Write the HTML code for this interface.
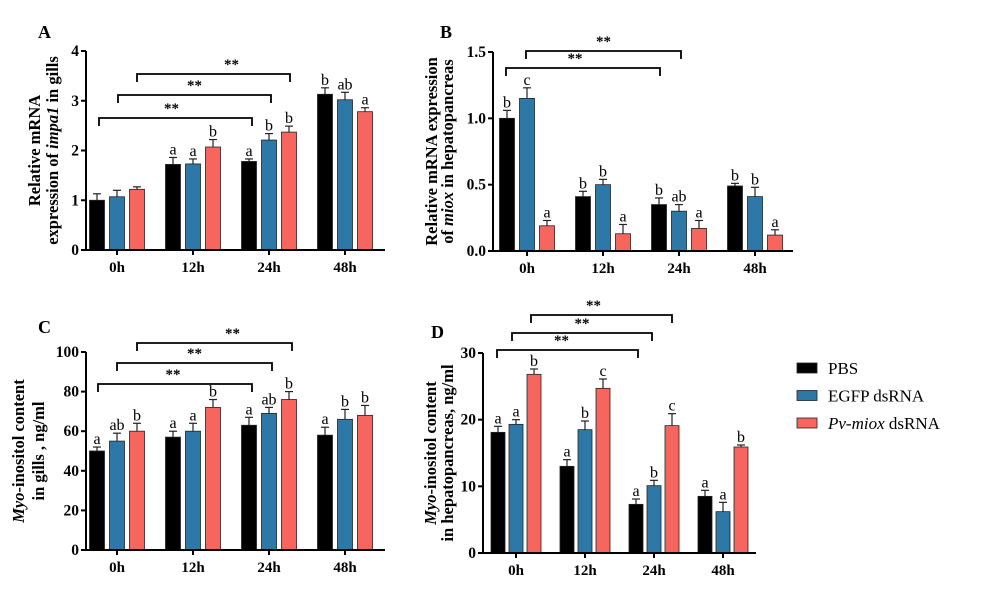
<!DOCTYPE html>
<html><head><meta charset="utf-8"><style>
body{margin:0;background:#fff}
svg{display:block;font-family:"Liberation Serif",serif}
</style></head><body>
<svg id="fig" width="994" height="590" viewBox="0 0 994 590"></svg>
<script>
const categories=["0h","12h","24h","48h"];
const seriesNames=["PBS","EGFP dsRNA","Pv-miox dsRNA"];
const colors=["#000000","#2e78a8","#f7655f"];
// Panel A
const aPBS=[1.0,1.72,1.78,3.13],aEGFP=[1.07,1.73,2.21,3.02],aMiox=[1.22,2.07,2.37,2.78];
const aErrPBS=[0.13,0.14,0.05,0.13],aErrEGFP=[0.13,0.1,0.13,0.15],aErrMiox=[0.05,0.15,0.12,0.08];
const aLetters=[["","",""],["a","a","b"],["a","b","b"],["b","ab","a"]];
const aTicks=["0","1","2","3","4"];
// Panel B
const bPBS=[1.0,0.41,0.35,0.49],bEGFP=[1.15,0.5,0.3,0.41],bMiox=[0.19,0.13,0.17,0.12];
const bErrPBS=[0.06,0.04,0.05,0.02],bErrEGFP=[0.08,0.04,0.05,0.07],bErrMiox=[0.04,0.07,0.06,0.04];
const bLetters=[["b","c","a"],["b","b","a"],["b","ab","a"],["b","b","a"]];
const bTicks=["0.0","0.5","1.0","1.5"];
// Panel C
const cPBS=[50,57,63,58],cEGFP=[55,60,69,66],cMiox=[60,72,76,68];
const cErrPBS=[2,3,4,4],cErrEGFP=[4,4,3,5],cErrMiox=[4,4,4,5];
const cLetters=[["a","ab","b"],["a","a","b"],["a","ab","b"],["a","b","b"]];
const cTicks=["0","20","40","60","80","100"];
// Panel D
const dPBS=[18.1,13.0,7.3,8.5],dEGFP=[19.3,18.5,10.1,6.2],dMiox=[26.8,24.7,19.1,15.9];
const dErrPBS=[0.9,1.0,0.8,0.9],dErrEGFP=[0.7,1.3,0.8,1.4],dErrMiox=[0.8,1.4,1.8,0.3];
const dLetters=[["a","a","b"],["a","b","c"],["a","b","c"],["a","a","b"]];
const dTicks=["0","10","20","30"];

const NS="http://www.w3.org/2000/svg";
const svg=document.getElementById('fig');
function mk(tag,attrs,parent,text){const e=document.createElementNS(NS,tag);for(const k in attrs)e.setAttribute(k,attrs[k]);if(text!==undefined)e.textContent=text;(parent||svg).appendChild(e);return e;}

function panel(p){
  const g=mk('g',{});
  
  
  const ymax=parseFloat(p.ticks[p.ticks.length-1]);
  const y=v=>p.y0-(v/ymax)*(p.y0-p.y1);
  const x=i=>p.cx0+i*p.gs;
  const lbl=mk('text',{x:p.lx,y:p.ly,'font-size':18,'font-weight':'bold'},g,p.id);
  
  
  const series=[p.s0,p.s1,p.s2],errs=[p.e0,p.e1,p.e2];
  categories.forEach((c,i)=>{
    for(let s=0;s<3;s++){
      const cx=x(i)+(s-1)*p.bs, v=series[s][i], top=y(v);
      const r=mk('rect',{x:cx-p.bw/2,y:top,width:p.bw,height:p.y0-top,fill:colors[s],stroke:'#222','stroke-width':0.8},g);
      
      
      const et=y(v+errs[s][i]);
      mk('line',{x1:cx,x2:cx,y1:top,y2:et,stroke:'#222','stroke-width':1.2},g);
      mk('line',{x1:cx-4,x2:cx+4,y1:et,y2:et,stroke:'#222','stroke-width':1.2},g);
      const L=p.letters[i][s];
      if(L){const t=mk('text',{x:cx,y:et-3,'font-size':16,'text-anchor':'middle'},g,L);
        }
    }
    mk('line',{x1:x(i),x2:x(i),y1:p.y0,y2:p.y0+5,stroke:'#000','stroke-width':2},g);
    const t=mk('text',{x:x(i),y:p.y0+22,'font-size':15,'font-weight':'bold','text-anchor':'middle'},g,c);
    
  });
  mk('line',{x1:p.ax,x2:p.ax,y1:p.y1,y2:p.y0+1,stroke:'#000','stroke-width':2},g);
  mk('line',{x1:p.ax-1,x2:p.xend,y1:p.y0,y2:p.y0,stroke:'#000','stroke-width':2},g);
  p.ticks.forEach(tk=>{const yy=y(parseFloat(tk));
    mk('line',{x1:p.ax-5,x2:p.ax,y1:yy,y2:yy,stroke:'#000','stroke-width':2},g);
    const t=mk('text',{x:p.ax-7,y:yy+5,'font-size':15.5,'font-weight':'bold','text-anchor':'end'},g,tk);
    });
  p.brackets.forEach(b=>{
    mk('path',{d:`M${b[0]},${b[2]+8}V${b[2]}H${b[1]}V${b[2]+8}`,fill:'none',stroke:'#000','stroke-width':1.8},g);
    mk('text',{x:(b[0]+b[1])/2+(b[3]||0),y:b[2]-5,'font-size':15,'font-weight':'bold','text-anchor':'middle'},g,'**');
  });
  const tt=mk('text',{transform:`translate(${p.tx},${(p.y0+p.y1)/2}) rotate(-90)`,'font-size':16.5,'font-weight':'bold','text-anchor':'middle'},g);
  
  p.title(tt,p.ls);
}
function tsp(parent,lines,ls){lines.forEach((ln,li)=>{const t=mk('tspan',{x:0,dy:li?ls:0},parent);
  ln.forEach(seg=>{mk('tspan',seg[1]?{'font-style':'italic'}:{},t,seg[0]);});});}

panel({id:'A',lx:38,ly:38,ax:86,y0:250,y1:51,xend:385,cx0:117,gs:76,bs:20,bw:15,tx:40,ls:18,
 s0:aPBS,s1:aEGFP,s2:aMiox,e0:aErrPBS,e1:aErrEGFP,e2:aErrMiox,letters:aLetters,ticks:aTicks,
 brackets:[[99,252,118,-4],[118,271,95],[137,290,74,18]],
 title:(t,ls)=>tsp(t,[[["Relative mRNA"]],[["expression of "],["impa1",1],[" in gills"]]],ls)});
panel({id:'B',lx:440,ly:38,ax:493,y0:251,y1:52,xend:793,cx0:527,gs:76,bs:20,bw:15,tx:437,ls:16,
 s0:bPBS,s1:bEGFP,s2:bMiox,e0:bErrPBS,e1:bErrEGFP,e2:bErrMiox,letters:bLetters,ticks:bTicks,
 brackets:[[506,660,68,-8],[526,681,51]],
 title:(t,ls)=>tsp(t,[[["Relative mRNA expression"]],[["of "],["miox",1],[" in hepatopancreas"]]],ls)});
panel({id:'C',lx:38,ly:333,ax:86,y0:550,y1:352,xend:385,cx0:117,gs:76,bs:20,bw:15,tx:24,ls:20,
 s0:cPBS,s1:cEGFP,s2:cMiox,e0:cErrPBS,e1:cErrEGFP,e2:cErrMiox,letters:cLetters,ticks:cTicks,
 brackets:[[98,252,384,-2],[117,272,363],[137,292,343,18]],
 title:(t,ls)=>tsp(t,[[["Myo",1],["-inositol content"]],[["in gills , ng/ml"]]],ls)});
panel({id:'D',lx:431,ly:338,ax:483,y0:553,y1:353,xend:756,cx0:516,gs:69,bs:18,bw:14,tx:436,ls:17,
 s0:dPBS,s1:dEGFP,s2:dMiox,e0:dErrPBS,e1:dErrEGFP,e2:dErrMiox,letters:dLetters,ticks:dTicks,
 brackets:[[497,638,350,-6],[512,652,333],[531,672,315,-8]],
 title:(t,ls)=>tsp(t,[[["Myo",1],["-inositol content"]],[["in hepatopancreas, ng/ml"]]],ls)});

const leg=mk('g',{});


seriesNames.forEach((n,i)=>{
  const yy=363+i*27.5;
  const r=mk('rect',{x:797,y:yy,width:20,height:10,fill:colors[i],stroke:'#222','stroke-width':0.8},leg);
  
  const t=mk('text',{x:828,y:yy+11,'font-size':17},leg);
  
  if(i===2){mk('tspan',{'font-style':'italic'},t,'Pv-miox');mk('tspan',{},t,' dsRNA');}
  else t.textContent=n;
});
</script>
</body></html>
